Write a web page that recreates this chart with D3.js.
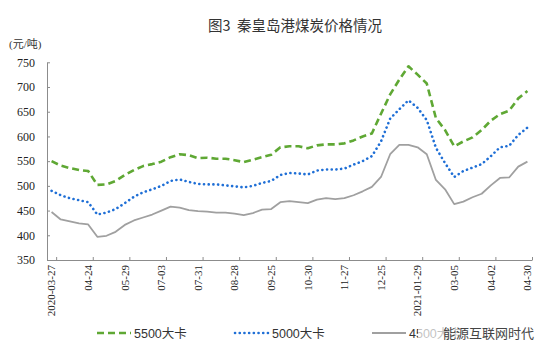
<!DOCTYPE html>
<html><head><meta charset="utf-8">
<script src="https://cdn.jsdelivr.net/npm/d3@7"></script>
<style>
body{margin:0;background:#fff;}
svg{display:block;}
</style></head>
<body>
<svg id="c" width="550" height="355"></svg>
<script>
// ---- data ----
const title = "图3  秦皇岛港煤炭价格情况";
const unitLabel = "(元/吨)";
const tickLabels = ["2020-03-27","04-24","05-29","07-03","07-31","08-28","09-25","10-30","11-27","12-25","2021-01-29","03-05","04-02","04-30"];
const seriesNames = ["5500大卡","5000大卡","4500大卡"];
const s5500 = [550,541,536,532,530,502,503,510,522,532,540,544,549,558,564,562,556,557,555,555,552,548,553,558,563,578,580,580,576,582,584,584,586,592,600,606,646,685,715,742,725,707,637,613,580,590,598,613,632,645,652,677,692];
const s5000 = [490,481,475,471,467,442,446,453,465,478,487,493,500,510,513,508,504,503,503,501,499,497,500,506,510,522,526,525,523,531,533,533,535,543,550,560,590,636,655,673,658,633,577,546,518,530,537,544,560,578,581,603,618];
const s4500 = [447,432,428,424,422,397,399,407,421,430,436,442,450,458,456,451,449,448,446,446,444,441,445,452,453,467,469,467,465,472,475,473,475,481,489,498,518,564,583,583,578,564,512,493,463,468,477,484,501,516,517,539,549];
const yTicks = [350,400,450,500,550,600,650,700,750];
const watermark = "能源互联网时代";

// ---- layout ----
const svg = d3.select("#c");
const mLeft = 47, mRight = 532, mTop = 62.3, mBottom = 260;
const n = s5500.length;
const x = d3.scaleBand().domain(d3.range(n)).range([mLeft, mRight]).padding(0);
const xb = d3.scaleLinear().domain([0, n]).range([mLeft, mRight]);
const y = d3.scaleLinear().domain([350, 750]).range([mBottom, mTop]);
const cx = i => x(i) + x.bandwidth() / 2;

const serif = "'Liberation Serif','Times New Roman',serif";
const cjk = "'Liberation Sans','Noto Sans CJK SC',sans-serif";

// title
svg.append("text").attr("x", 295).attr("y", 31).attr("text-anchor", "middle")
  .attr("font-family", "'Noto Sans CJK SC',sans-serif").attr("font-size", 14.5).attr("fill", "#333")
  .attr("xml:space","preserve").text(title);
// unit
svg.append("text").attr("x", 9).attr("y", 48)
  .attr("font-family", "'Liberation Serif','Noto Sans CJK SC',serif").attr("font-size", 11).attr("fill", "#333")
  .text(unitLabel);

// y axis
const yAxis = svg.append("g").attr("transform", `translate(${mLeft},0)`)
  .call(d3.axisLeft(y).tickValues(yTicks).tickSize(-3).tickPadding(12).tickSizeOuter(0));
yAxis.select(".domain").attr("stroke", "#8c8c8c");
yAxis.selectAll(".tick line").attr("stroke", "#8c8c8c");
yAxis.selectAll("text").attr("font-family", serif).attr("font-size", 12).attr("fill", "#222");

// x axis line + tick marks (between categories)
const xTickG = svg.append("g").attr("transform", `translate(0,${mBottom})`)
  .call(d3.axisBottom(xb).tickValues(d3.range(1, n + 1, 4)).tickSize(-3).tickSizeOuter(0).tickFormat(""));
xTickG.select(".domain").attr("stroke", "#8c8c8c");
xTickG.selectAll(".tick line").attr("stroke", "#8c8c8c");

// x labels at every 4th category
const labelIdx = d3.range(0, n, 4);
const xLab = svg.append("g").attr("transform", `translate(0,${mBottom})`)
  .call(d3.axisBottom(x).tickValues(labelIdx).tickSize(0).tickFormat((d, i) => tickLabels[i]));
xLab.select(".domain").remove();
xLab.selectAll("text")
  .attr("font-family", serif).attr("font-size", 11).attr("fill", "#222")
  .attr("text-anchor", "end").attr("transform", "rotate(-90)")
  .attr("x", -5).attr("y", 0).attr("dy", "0.35em");

// lines
const line = d3.line().x((d, i) => cx(i)).y(d => y(d));
const styles = [
  {data: s5500, color: "#5fa834", width: 2.6, dash: "7,4", cap: "butt"},
  {data: s5000, color: "#1f6fd6", width: 2.6, dash: "0.1,4.6", cap: "round"},
  {data: s4500, color: "#a0a0a0", width: 1.8, dash: null, cap: "butt"}
];
styles.slice().reverse().forEach(s => {
  svg.append("path").datum(s.data).attr("d", line)
    .attr("fill", "none").attr("stroke", s.color).attr("stroke-width", s.width)
    .attr("stroke-dasharray", s.dash).attr("stroke-linecap", s.cap)
    .attr("stroke-linejoin", "round");
});

// legend
const legY = 333;
const legX = [97, 235, 372];
styles.forEach((s, i) => {
  svg.append("line").attr("x1", legX[i]).attr("x2", legX[i] + 34).attr("y1", legY).attr("y2", legY)
    .attr("stroke", s.color).attr("stroke-width", s.width)
    .attr("stroke-dasharray", s.dash).attr("stroke-linecap", s.cap);
  svg.append("text").attr("x", legX[i] + 37).attr("y", legY + 4.5)
    .attr("font-family", cjk).attr("font-size", 12.5).attr("fill", "#333").text(seriesNames[i]);
});

// watermark overlay
svg.append("rect").attr("x", 418).attr("y", 322).attr("width", 118).attr("height", 22)
  .attr("fill", "#fff").attr("opacity", 0.7);
svg.append("text").attr("x", 443).attr("y", 338)
  .attr("font-family", "'Noto Sans CJK SC',sans-serif").attr("font-size", 13).attr("fill", "#444")
  .text(watermark);
</script>
</body></html>
